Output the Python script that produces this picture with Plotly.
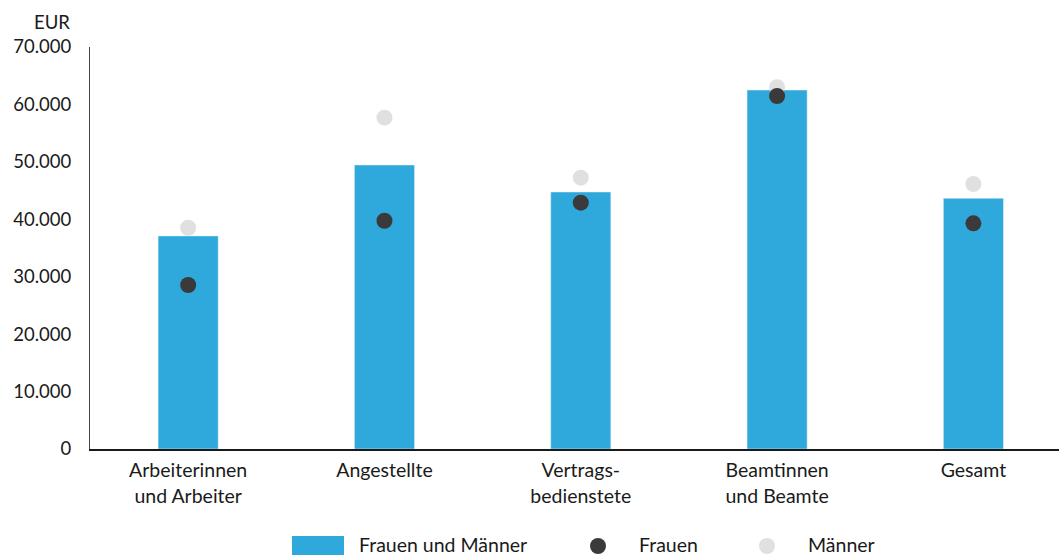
import plotly.graph_objects as go

categories = ["Arbeiterinnen<br>und Arbeiter", "Angestellte", "Vertrags-<br>bedienstete",
              "Beamtinnen<br>und Beamte", "Gesamt"]
gesamt = [37100, 49450, 44750, 62500, 43650]
frauen = [28560, 39750, 42890, 61470, 39300]
maenner = [38530, 57690, 47240, 63000, 46140]
y_ticks = [0, 10000, 20000, 30000, 40000, 50000, 60000, 70000]
y_tick_labels = ["0", "10.000", "20.000", "30.000", "40.000", "50.000", "60.000", "70.000"]
legend_names = ["Frauen und Männer", "Frauen", "Männer"]

BLUE = "#2fa8dc"
DARK = "#3a3a3a"
LIGHT = "#e0e0e0"
FONT = "Lato"

W, H = 1059, 555
L, R, T, B = 90, 0, 47, 106
PW, PH = W - L - R, H - T - B

def px_x(p):
    return (p - L) / PW

def px_y(p):
    return (H - B - p) / PH

fig = go.Figure()
fig.add_trace(go.Bar(x=categories, y=gesamt, marker_color=BLUE, width=0.306,
                     name=legend_names[0], showlegend=False))
fig.add_trace(go.Scatter(x=categories, y=maenner, mode="markers",
                         marker=dict(color=LIGHT, size=16), name=legend_names[2], showlegend=False))
fig.add_trace(go.Scatter(x=categories, y=frauen, mode="markers",
                         marker=dict(color=DARK, size=16), name=legend_names[1], showlegend=False))

shapes = []
annotations = []
# custom legend
shapes.append(dict(type="rect", xref="paper", yref="paper",
                   x0=px_x(292), x1=px_x(344), y0=px_y(555), y1=px_y(536),
                   fillcolor=BLUE, line=dict(width=0)))
for cx, col in [(598, DARK), (767, LIGHT)]:
    shapes.append(dict(type="circle", xref="paper", yref="paper",
                       x0=px_x(cx - 8), x1=px_x(cx + 8), y0=px_y(554), y1=px_y(538),
                       fillcolor=col, line=dict(width=0)))
for tx, txt in [(357, legend_names[0]), (637, legend_names[1]), (806, legend_names[2])]:
    annotations.append(dict(xref="paper", yref="paper", x=px_x(tx), y=px_y(544),
                            text=txt, showarrow=False, xanchor="left", yanchor="middle",
                            font=dict(family=FONT, size=19.5, color="#1a1a1a")))
annotations.append(dict(xref="paper", yref="paper", x=px_x(72), y=px_y(22),
                        text="EUR", showarrow=False, xanchor="right", yanchor="middle",
                        font=dict(family=FONT, size=18.5, color="#1a1a1a")))

fig.update_layout(
    width=W, height=H,
    margin=dict(l=L, r=R, t=T, b=B),
    plot_bgcolor="white", paper_bgcolor="white",
    font=dict(family=FONT, size=18.5, color="#1a1a1a"),
    shapes=shapes, annotations=annotations,
    showlegend=False,
)
fig.update_xaxes(range=[-0.5, 4.436], showline=True, linecolor="#1a1a1a", linewidth=1.5,
                 ticks="", showgrid=False, zeroline=False, tickfont=dict(size=19.5),
                 ticklabelstandoff=3)
fig.update_yaxes(range=[0, 70000], tickvals=y_ticks, ticktext=y_tick_labels,
                 showline=True, linecolor="#444444", linewidth=1, ticks="",
                 showgrid=False, zeroline=False, ticklabelstandoff=14, tickfont=dict(size=18.5))

fig.write_html("out.html", config={"displayModeBar": False},
               post_script="document.body.style.margin='0';document.body.style.overflow='hidden';")
